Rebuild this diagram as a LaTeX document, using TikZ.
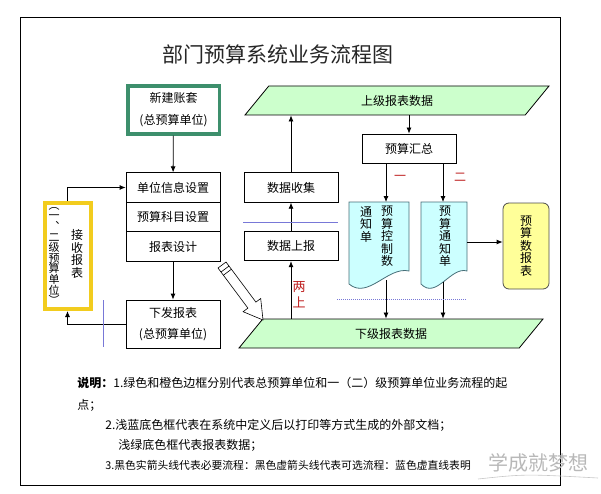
\documentclass[tikz,border=0pt]{standalone}
\usepackage{fontspec}
\newfontfamily\cjk{Noto Sans CJK SC}
\usetikzlibrary{shapes.geometric,arrows.meta}
\definecolor{acctgreen}{RGB}{61,143,108}
\definecolor{acctyellow}{RGB}{242,204,30}
\definecolor{datagreen}{RGB}{204,255,204}
\definecolor{doccyan}{RGB}{204,255,255}
\definecolor{docedge}{RGB}{70,110,120}
\definecolor{rptyellow}{RGB}{255,255,153}
\definecolor{guideblue}{RGB}{120,120,215}
\definecolor{markred}{RGB}{190,30,30}
\lineskiplimit=-50pt
\begin{document}
\begin{tikzpicture}[x=1pt, y=-1pt, node distance=29.5pt, line width=0.8pt,
  >={Latex[length=6pt,width=5pt]},
  font=\cjk\fontsize{12}{14}\selectfont,
  box/.style={draw, minimum width=94pt, minimum height=29.5pt, inner sep=0pt},
  tallbox/.style={box, minimum height=48pt, align=center},
  repdata/.style={draw, fill=datagreen, trapezium, trapezium left angle=25,
    trapezium right angle=155, trapezium stretches body,
    minimum width=304pt, minimum height=29pt, inner sep=0pt},
  vtext/.style={align=center, inner sep=0pt,
    font=\cjk\fontsize{12}{12.5}\selectfont},
  docpaper/.style={fill=doccyan, draw=docedge},
  note/.style={anchor=west, inner sep=0pt},
  guide/.style={guideblue, line width=0.6pt}]

\useasboundingbox (0,0) rectangle (601,494);
\draw (20,17) rectangle (560,485);

\node[font=\cjk\fontsize{21}{24}\selectfont, text=black!85] (title) at (278,54) {部门预算系统业务流程图};

% left column
\node[draw=acctgreen, line width=3.5pt, minimum width=91.5pt, minimum height=48pt,
  align=center, font=\cjk\fontsize{12}{22}\selectfont] (new) at (173.5,110) {新建账套\\(总预算单位)};
\node[box] (info) at (173,187.5) {单位信息设置};
\node[box] (subj) [below of=info] {预算科目设置};
\node[box] (design) [below of=subj] {报表设计};
\node[tallbox, font=\cjk\fontsize{12}{21}\selectfont] (issue) at (173,324) {下发报表\\(总预算单位)};

\node[draw=acctyellow, line width=4pt, minimum width=46pt, minimum height=106pt] (recv) at (67.5,256) {};
\node[vtext, font=\cjk\fontsize{11}{10.6}\selectfont] (recvunit) at (54,256) {︵\\一\\︑\\二\\级\\预\\算\\单\\位\\︶};
\node[vtext] (recvtext) at (77,254) {接\\收\\报\\表};

% middle column
\node[box] (collect) at (291,187.5) {数据收集};
\node[box] (report) at (291,246) {数据上报};
\node[repdata] (upper) at (397,100.5) {上级报表数据};
\node[repdata] (lower) at (391,333.5) {下级报表数据};
\node[box, minimum height=29pt] (sum) at (409,148.5) {预算汇总};

% documents
\filldraw[docpaper] (349,202) -- (409,202) -- (409,271) .. controls (388,266) and (368,300) .. (349,284) -- cycle;
\filldraw[docpaper] (421,202) -- (467,202) -- (467,271) .. controls (451,266) and (436,300) .. (421,284) -- cycle;
\node[minimum width=60pt, minimum height=80pt] (ctl) at (379,242) {};
\node[minimum width=46pt, minimum height=80pt] (notice) at (444,242) {};
\node[vtext, anchor=north] (ctlA) at (366,206) {通\\知\\单};
\node[vtext, anchor=north] (ctlB) at (387,206) {预\\算\\控\\制\\数};
\node[vtext, anchor=north] (noticetext) at (445,206) {预\\算\\通\\知\\单};
\node[vtext, draw=black!70, fill=rptyellow, rounded corners=6pt,
  minimum width=46pt, minimum height=86pt] (budget) at (526,246) {预\\算\\数\\报\\表};

\coordinate (ctlin) at (386,202);
\coordinate (noticein) at (443,202);
\coordinate (ctlout) at (386,280);
\coordinate (noticeout) at (443,282);

% arrows
\draw[->] (new) -- (info);
\draw[->] (design) -- (issue);
\draw[->] (issue.west) -| (recv);
\draw[->] (recv) |- (info);
\draw[->] (report) -- (collect);
\draw[->] (collect) -- (collect |- upper.south);
\draw[->] (report |- lower.north) -- (report);
\draw[->] (sum |- upper.south) -- (sum);
\draw[->] (sum.south -| ctlin) -- (ctlin);
\draw[->] (sum.south -| noticein) -- (noticein);
\draw[->] (ctlout) -- (ctlout |- lower.north);
\draw[->] (noticeout) -- (noticeout |- lower.north);
\draw[->] (notice.east) -- (notice.east -| budget.west);

% marks
\node[vtext, text=markred, font=\cjk\fontsize{13}{16}\selectfont] (twoup) at (299,295) {两\\上};
\node[text=markred] (markone) at (400,178) {一};
\node[text=markred] (marktwo) at (460,177) {二};
\draw[guide] (103,300) -- (103,347);
\draw[guide] (243,222) -- (338,222);
\draw[guide, dash pattern=on 1pt off 1pt] (337,299) -- (467,299);

% pencil
\filldraw[fill=white, line width=0.6pt] (218.0,268.0) -- (226.0,262.0) -- (255.9,302.1) -- (260.7,298.5)
  -- (263,320) -- (243.1,311.7) -- (247.9,308.1) -- cycle;
\draw[line width=0.6pt] (221.0,272.0) -- (229.0,266.0) (223.4,275.2) -- (231.4,269.2);

% notes
\node[note] (note1) at (77,383) {\textbf{说明：}1.绿色和橙色边框分别代表总预算单位和一（二）级预算单位业务流程的起};
\node[note] (note1b) at (77,405) {点；};
\node[note] (note2) at (105,425) {2.浅蓝底色框代表在系统中定义后以打印等方式生成的外部文档；};
\node[note] (note2b) at (118,445) {浅绿底色框代表报表数据；};
\node[note, font=\cjk\fontsize{10.8}{14}\selectfont] (note3) at (105,465) {3.黑色实箭头线代表必要流程：黑色虚箭头线代表可选流程：蓝色虚直线表明};
\node[text=black!28, font=\cjk\fontsize{20}{22}\selectfont] (stamp) at (538,463) {学成就梦想};
\draw[black!22, line width=0.6pt] (478,479) .. controls (525,474) .. (598,478);
\end{tikzpicture}
\end{document}
